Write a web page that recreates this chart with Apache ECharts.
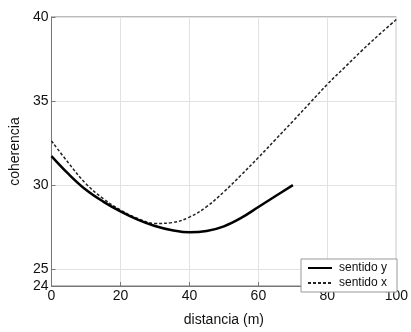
<!DOCTYPE html>
<html>
<head>
<meta charset="utf-8">
<script src="https://cdn.jsdelivr.net/npm/echarts@6/dist/echarts.min.js"></script>
<style>
  html, body { margin: 0; padding: 0; background: #fff; }
  #chart { width: 411px; height: 332px; }
</style>
</head>
<body>
<div id="chart"></div>
<script>
const distanceY = [0, 5, 10, 15, 20, 25, 30, 35, 40, 45, 50, 55, 60, 65, 70];
const sentidoY = [31.73, 30.65, 29.72, 29.02, 28.44, 27.95, 27.57, 27.32, 27.19, 27.27, 27.55, 28.05, 28.7, 29.35, 30.0];

const distanceX = [0, 5, 10, 15, 20, 25, 30, 35, 40, 45, 50, 55, 60, 65, 70, 75, 80, 85, 90, 95, 100];
const sentidoX = [32.63, 31.3, 30.08, 29.2, 28.52, 28.02, 27.72, 27.77, 28.1, 28.72, 29.6, 30.6, 31.64, 32.72, 33.8, 34.9, 36.0, 37.0, 38.0, 38.95, 39.85];

const yTicks = [24, 25, 30, 35, 40];

const FONT = '"Liberation Sans", Arial, sans-serif';
const FRAME = '#777';
const GRID = '#e2e2e2';

function zipPoints(xs, ys) {
  return xs.map((x, i) => [x, ys[i]]);
}

const chart = echarts.init(document.getElementById('chart'), null, { renderer: 'canvas' });

chart.setOption({
  animation: false,
  backgroundColor: '#fff',
  textStyle: { fontFamily: FONT },
  grid: {
    left: 47,
    top: 17,
    width: 354,
    height: 279,
    show: true,
    borderColor: FRAME,
    borderWidth: 1,
    backgroundColor: 'transparent',
  },
  legend: {
    orient: 'vertical',
    left: 301,
    top: 259,
    padding: [3, 10, 3, 6],
    itemGap: 3,
    itemWidth: 24,
    itemHeight: 12,
    backgroundColor: '#fff',
    borderColor: '#999',
    borderWidth: 1,
    borderRadius: 0,
    // hide the symbol drawn in the middle of line icons
    itemStyle: { opacity: 0 },
    textStyle: { fontFamily: FONT, fontSize: 12, color: '#111', padding: [0, 0, 0, 2] },
    data: ['sentido y', 'sentido x'],
  },
  xAxis: {
    type: 'value',
    min: 0,
    max: 100,
    interval: 20,
    name: 'distancia (m)',
    nameLocation: 'middle',
    nameGap: 27,
    nameTextStyle: { fontFamily: FONT, fontSize: 14, color: '#111' },
    axisLine: { show: true, lineStyle: { color: FRAME } },
    axisTick: { show: true, inside: true, length: 4, lineStyle: { color: FRAME } },
    axisLabel: { fontFamily: FONT, fontSize: 14, color: '#111', margin: 3 },
    splitLine: { show: true, lineStyle: { color: GRID, width: 1 } },
  },
  yAxis: {
    type: 'value',
    min: 24,
    max: 40,
    name: 'coherencia',
    nameLocation: 'middle',
    nameGap: 18,
    nameTextStyle: { fontFamily: FONT, fontSize: 14, color: '#111' },
    axisLine: { show: true, lineStyle: { color: FRAME } },
    axisTick: { show: true, inside: true, length: 4, customValues: yTicks, lineStyle: { color: FRAME } },
    axisLabel: { fontFamily: FONT, fontSize: 14, color: '#111', margin: 3, customValues: yTicks },
    splitLine: { show: true, lineStyle: { color: GRID, width: 1 } },
  },
  series: [
    {
      name: 'sentido y',
      type: 'line',
      data: zipPoints(distanceY, sentidoY),
      smooth: 0.4,
      symbol: 'none',
      color: '#000',
      lineStyle: { color: '#000', width: 2.5 },
      z: 3,
    },
    {
      name: 'sentido x',
      type: 'line',
      data: zipPoints(distanceX, sentidoX),
      smooth: 0.4,
      symbol: 'none',
      color: '#222',
      lineStyle: { color: '#222', width: 1.5, type: [3, 2] },
      z: 2,
    },
  ],
});
</script>
</body>
</html>
